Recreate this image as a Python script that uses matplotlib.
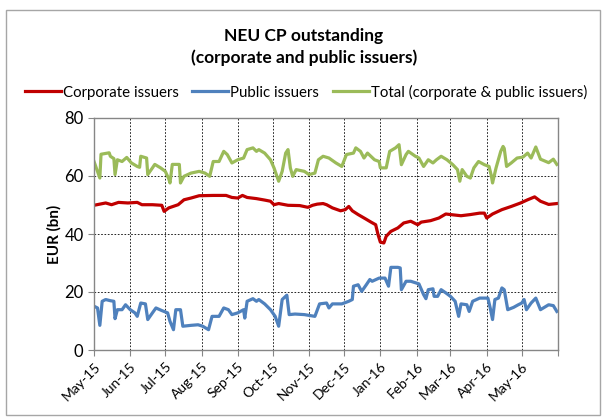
import matplotlib
matplotlib.use("Agg")
import matplotlib.pyplot as plt
import pandas as pd
from matplotlib.patches import Rectangle

# Total (corporate & public issuers), EUR bn
total_dates = [
    "2015-05-01", "2015-05-06", "2015-05-07", "2015-05-14", "2015-05-15", "2015-05-18",
    "2015-05-19", "2015-05-21", "2015-05-25", "2015-05-29", "2015-06-02", "2015-06-07",
    "2015-06-09", "2015-06-10", "2015-06-15", "2015-06-16", "2015-06-20", "2015-06-22",
    "2015-06-27", "2015-07-01", "2015-07-04", "2015-07-05", "2015-07-07", "2015-07-13",
    "2015-07-14", "2015-07-17", "2015-07-23", "2015-07-30", "2015-08-04", "2015-08-08",
    "2015-08-11", "2015-08-16", "2015-08-20", "2015-08-23", "2015-08-27", "2015-09-01",
    "2015-09-06", "2015-09-09", "2015-09-14", "2015-09-17", "2015-09-19", "2015-09-24",
    "2015-09-29", "2015-10-02", "2015-10-06", "2015-10-09", "2015-10-12", "2015-10-14",
    "2015-10-16", "2015-10-18", "2015-10-21", "2015-10-28", "2015-11-01", "2015-11-06",
    "2015-11-09", "2015-11-13", "2015-11-18", "2015-11-24", "2015-11-29", "2015-12-03",
    "2015-12-09", "2015-12-11", "2015-12-15", "2015-12-18", "2015-12-21", "2015-12-27",
    "2015-12-31", "2016-01-01", "2016-01-06", "2016-01-09", "2016-01-14", "2016-01-17",
    "2016-01-19", "2016-01-23", "2016-01-25", "2016-01-31", "2016-02-03", "2016-02-07",
    "2016-02-11", "2016-02-15", "2016-02-18", "2016-02-22", "2016-02-27", "2016-03-03",
    "2016-03-07", "2016-03-09", "2016-03-11", "2016-03-15", "2016-03-18", "2016-03-21",
    "2016-03-25", "2016-03-30", "2016-04-03", "2016-04-05", "2016-04-06", "2016-04-09",
    "2016-04-13", "2016-04-15", "2016-04-16", "2016-04-18", "2016-04-22", "2016-04-27",
    "2016-05-02", "2016-05-06", "2016-05-09", "2016-05-13", "2016-05-17", "2016-05-24",
    "2016-05-28", "2016-05-31",
]
total_vals = [
    65.0, 59.3, 67.5, 68.0, 66.8, 66.0,
    60.5, 65.6, 65.0, 66.4, 64.5, 63.3,
    63.0, 66.8, 66.2, 60.5, 62.8, 64.0,
    62.8, 61.6, 59.0, 57.6, 64.0, 64.0,
    57.6, 59.9, 61.0, 61.6, 61.0, 59.9,
    65.0, 65.0, 68.5, 67.4, 64.5, 65.6,
    66.2, 69.1, 69.7, 68.5, 69.1, 67.9,
    65.6, 62.8, 58.2, 61.6, 67.9, 69.1,
    62.8, 59.9, 62.2, 61.6, 60.5, 61.0,
    65.6, 66.8, 66.2, 64.5, 63.3, 67.4,
    67.9, 69.7, 68.5, 66.2, 67.9, 65.6,
    65.0, 62.8, 62.8, 68.5, 69.7, 70.8,
    63.9, 67.4, 68.5, 66.8, 66.2, 63.3,
    65.6, 64.5, 65.6, 66.8, 65.6, 63.9,
    62.2, 58.2, 62.2, 59.9, 59.3, 62.8,
    65.0, 63.9, 63.3, 60.0, 57.6, 62.8,
    68.5, 70.2, 69.5, 63.3, 64.5, 66.2,
    66.5, 67.9, 66.2, 70.0, 65.8, 64.6,
    65.8, 64.0,
]

# Corporate issuers
corp_dates = [
    "2015-05-01", "2015-05-11", "2015-05-16", "2015-05-22", "2015-05-30", "2015-06-07",
    "2015-06-11", "2015-06-20", "2015-06-28", "2015-06-30", "2015-07-04", "2015-07-12",
    "2015-07-17", "2015-07-23", "2015-07-30", "2015-08-11", "2015-08-22", "2015-08-27",
    "2015-09-01", "2015-09-05", "2015-09-09", "2015-09-17", "2015-09-24", "2015-09-29",
    "2015-10-02", "2015-10-06", "2015-10-14", "2015-10-24", "2015-10-31", "2015-11-04",
    "2015-11-08", "2015-11-13", "2015-11-16", "2015-11-21", "2015-11-28", "2015-12-02",
    "2015-12-05", "2015-12-08", "2015-12-13", "2015-12-19", "2015-12-24", "2015-12-28",
    "2015-12-30", "2016-01-01", "2016-01-04", "2016-01-06", "2016-01-10", "2016-01-16",
    "2016-01-21", "2016-01-27", "2016-02-02", "2016-02-05", "2016-02-13", "2016-02-20",
    "2016-02-26", "2016-03-01", "2016-03-10", "2016-03-18", "2016-03-26", "2016-03-30",
    "2016-04-01", "2016-04-06", "2016-04-14", "2016-04-22", "2016-04-30", "2016-05-06",
    "2016-05-12", "2016-05-17", "2016-05-24", "2016-05-31",
]
corp_vals = [
    49.9, 50.7, 50.1, 50.9, 50.7, 50.9,
    50.1, 50.1, 49.9, 47.8, 49.0, 50.1,
    51.8, 52.4, 53.2, 53.3, 53.3, 52.6,
    52.4, 53.3, 52.6, 52.2, 51.7, 51.3,
    50.1, 50.5, 49.9, 49.8, 49.2, 49.9,
    50.3, 50.5, 50.1, 49.0, 48.0, 48.4,
    49.5, 48.0, 46.7, 45.3, 44.1, 43.2,
    39.8, 37.2, 36.9, 39.2, 40.9, 42.1,
    43.8, 44.4, 43.2, 44.1, 44.6, 45.5,
    46.9, 46.7, 46.3, 46.7, 47.2, 47.2,
    45.5, 46.9, 48.4, 49.5, 50.7, 51.8,
    52.8, 51.3, 50.2, 50.5,
]

# Public issuers
public_dates = [
    "2015-05-01", "2015-05-04", "2015-05-06", "2015-05-08", "2015-05-11", "2015-05-15",
    "2015-05-18", "2015-05-19", "2015-05-21", "2015-05-25", "2015-05-28", "2015-06-01",
    "2015-06-05", "2015-06-07", "2015-06-10", "2015-06-14", "2015-06-16", "2015-06-20",
    "2015-06-23", "2015-06-28", "2015-07-03", "2015-07-05", "2015-07-08", "2015-07-10",
    "2015-07-14", "2015-07-16", "2015-07-23", "2015-07-29", "2015-08-02", "2015-08-07",
    "2015-08-10", "2015-08-16", "2015-08-20", "2015-08-24", "2015-08-27", "2015-09-01",
    "2015-09-06", "2015-09-07", "2015-09-09", "2015-09-14", "2015-09-17", "2015-09-19",
    "2015-09-24", "2015-09-29", "2015-10-03", "2015-10-06", "2015-10-09", "2015-10-13",
    "2015-10-15", "2015-10-20", "2015-10-28", "2015-11-06", "2015-11-10", "2015-11-16",
    "2015-11-18", "2015-11-21", "2015-11-29", "2015-12-05", "2015-12-08", "2015-12-09",
    "2015-12-13", "2015-12-16", "2015-12-20", "2015-12-23", "2015-12-25", "2015-12-31",
    "2016-01-05", "2016-01-08", "2016-01-10", "2016-01-16", "2016-01-18", "2016-01-19",
    "2016-01-23", "2016-01-27", "2016-02-03", "2016-02-07", "2016-02-09", "2016-02-11",
    "2016-02-15", "2016-02-16", "2016-02-19", "2016-02-22", "2016-02-26", "2016-03-01",
    "2016-03-05", "2016-03-08", "2016-03-10", "2016-03-15", "2016-03-17", "2016-03-20",
    "2016-03-26", "2016-04-02", "2016-04-04", "2016-04-06", "2016-04-08", "2016-04-11",
    "2016-04-14", "2016-04-16", "2016-04-19", "2016-04-24", "2016-04-28", "2016-05-01",
    "2016-05-03", "2016-05-05", "2016-05-09", "2016-05-13", "2016-05-17", "2016-05-24",
    "2016-05-28", "2016-05-31",
]
public_vals = [
    15.1, 14.5, 8.5, 16.8, 17.4, 17.0,
    16.8, 10.8, 13.9, 13.9, 15.6, 13.9,
    12.8, 11.6, 16.2, 15.9, 10.5, 12.8,
    14.5, 13.6, 12.8, 9.9, 7.0, 13.9,
    13.9, 8.2, 8.5, 8.7, 8.2, 7.0,
    11.6, 11.6, 14.5, 13.9, 12.2, 12.8,
    13.9, 11.0, 16.8, 17.7, 16.8, 17.4,
    15.9, 13.9, 11.6, 8.2, 17.4, 18.9,
    12.2, 12.4, 12.2, 11.6, 15.9, 16.2,
    14.5, 15.9, 15.9, 16.8, 17.4, 22.0,
    22.5, 20.2, 22.5, 24.3, 23.7, 24.8,
    24.8, 22.0, 28.5, 28.5, 28.3, 20.8,
    23.7, 23.7, 22.8, 19.1, 17.7, 20.8,
    21.1, 18.5, 18.5, 20.8, 19.7, 18.5,
    16.8, 11.6, 15.9, 15.6, 13.3, 16.8,
    17.9, 17.9, 14.5, 10.5, 17.4, 17.9,
    21.4, 20.8, 13.9, 14.7, 15.6, 16.2,
    17.4, 13.9, 16.2, 17.9, 13.9, 15.6,
    15.3, 13.3,
]

month_ticks = pd.date_range("2015-05-01", "2016-06-01", freq="MS")

plt.rcParams["font.family"] = ["Lato", "DejaVu Sans"]

fig = plt.figure(figsize=(6.08, 4.19), dpi=100)
ax = fig.add_axes([94 / 608, 69 / 419, 464 / 608, 232 / 419])

ax.plot(pd.to_datetime(corp_dates), corp_vals, color="#C00000", lw=2.3, label="Corporate issuers")
ax.plot(pd.to_datetime(public_dates), public_vals, color="#4F81BD", lw=2.3, label="Public issuers")
ax.plot(pd.to_datetime(total_dates), total_vals, color="#9BBB59", lw=2.3,
        label="Total (corporate & public issuers)")

ax.set_xlim(month_ticks[0], month_ticks[-1])
ax.set_ylim(0, 80)
ax.set_yticks(range(0, 81, 20))
ax.set_xticks(month_ticks)
ax.set_xticklabels([d.strftime("%b-%y") for d in month_ticks[:-1]] + [""])
plt.setp(ax.get_xticklabels(), rotation=45, ha="right", rotation_mode="anchor", fontsize=10)
ax.tick_params(axis="y", labelsize=12, length=4, color="#868686")
ax.tick_params(axis="x", length=4, color="#868686")

ax.grid(True, color="black", linestyle=(0, (2, 2)), lw=0.6)
for s in ax.spines.values():
    s.set_color("#868686")
    s.set_linewidth(1)

ax.set_ylabel("EUR (bn)", fontsize=11, fontweight="bold", labelpad=2)

fig.text(0.5, 1 - 36 / 419, "NEU CP outstanding", ha="center", va="center",
         fontsize=12.5, fontweight="bold")
fig.text(0.5, 1 - 58 / 419, "(corporate and public issuers)", ha="center", va="center",
         fontsize=12.5, fontweight="bold")

fig.legend(loc="center", bbox_to_anchor=(306 / 608, 1 - 92 / 419), ncol=3, frameon=False,
           fontsize=10.8, handlelength=2.4, handletextpad=0.15, columnspacing=0.9)

fig.patches.append(Rectangle((6 / 608, 4 / 419), 594 / 608, 405 / 419, transform=fig.transFigure,
                             fill=False, edgecolor="#A6A6A6", lw=1))

plt.savefig("out.png", dpi=100)
